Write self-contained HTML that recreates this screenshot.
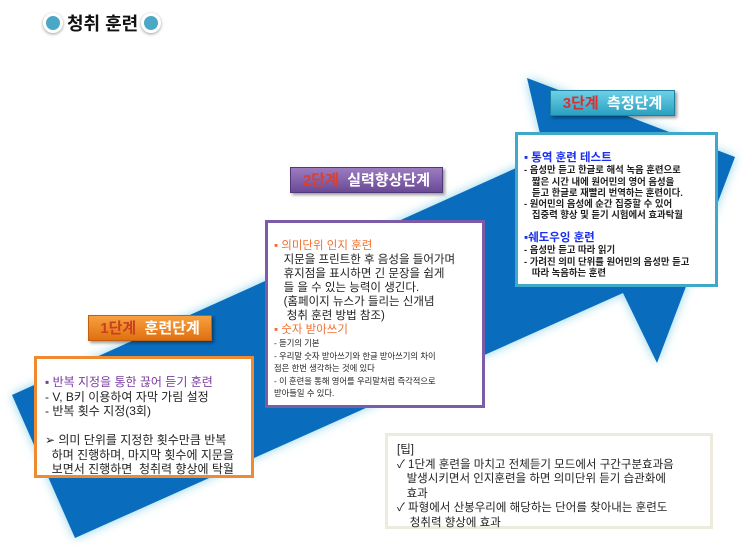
<!DOCTYPE html>
<html><head><meta charset="utf-8"><style>
body{margin:0;width:750px;height:555px;background:#fff;position:relative;overflow:hidden;font-family:"Liberation Sans","Noto Sans CJK KR",sans-serif;}
.a{position:absolute}
.box{position:absolute;background:#fff;box-sizing:border-box;color:#222;white-space:nowrap}
.lab{position:absolute;color:#fff;font-weight:bold;font-size:15px;text-align:center;box-shadow:2px 2px 3px rgba(0,0,0,.4);box-sizing:border-box;line-height:25px}
.dot{position:absolute;width:14px;height:14px;border-radius:50%;background:#4aa8c6;border:3px solid #fff;box-shadow:0 1px 3px rgba(0,0,0,.4)}
</style></head><body>
<svg class="a" style="left:0;top:0" width="750" height="555">
<defs><filter id="g" x="-10%" y="-10%" width="120%" height="120%"><feGaussianBlur stdDeviation="5"/></filter></defs>
<polygon points="12,395 545,155 527,78 735,157 657,363 623,293 75,538" fill="#8fd3e8" filter="url(#g)"/>
<polygon points="12,395 545,155 527,78 735,157 657,363 623,293 75,538" fill="#0a6cbd"/>
</svg>
<div class="dot" style="left:43px;top:13px"></div>
<div class="a" style="left:67px;top:10px;font-size:18px;font-weight:bold;color:#111">청취 훈련</div>
<div class="dot" style="left:141px;top:13px"></div>

<div class="lab" style="left:88px;top:315px;width:124px;height:26px;background:linear-gradient(#f7a040,#e07010);border:1px solid #c06010"><span style="color:#c84020">1단계</span>&nbsp; 훈련단계</div>
<div class="box" style="left:34px;top:356px;width:220px;height:122px;border:3px solid #f08a30;padding:16px 0 0 8px;font-size:12px;line-height:14.5px">
<span style="color:#7a3aa0">▪ 반복 지정을 통한 끊어 듣기 훈련</span><br>- V, B키 이용하여 자막 가림 설정<br>- 반복 횟수 지정(3회)<br><br>➢ 의미 단위를 지정한 횟수만큼 반복<br>&nbsp;&nbsp;하며 진행하며, 마지막 횟수에 지문을<br>&nbsp;&nbsp;보면서 진행하면&nbsp; 청취력 향상에 탁월</div>

<div class="lab" style="left:290px;top:167px;width:153px;height:26px;background:linear-gradient(#9c7bc0,#6a4a96);border:1px solid #50387a"><span style="color:#d84030">2단계</span>&nbsp; 실력향상단계</div>
<div class="box" style="left:265px;top:220px;width:220px;height:188px;border:3px solid #7c5ca8;padding:16px 0 0 6px;font-size:11.5px;line-height:14px">
<span style="color:#f07030">▪ 의미단위 인지 훈련</span><br>&nbsp;&nbsp;&nbsp;지문을 프린트한 후 음성을 들어가며<br>&nbsp;&nbsp;&nbsp;휴지점을 표시하면 긴 문장을 쉽게<br>&nbsp;&nbsp;&nbsp;들 을 수 있는 능력이 생긴다.<br>&nbsp;&nbsp;&nbsp;(홈페이지 뉴스가 들리는 신개념<br>&nbsp;&nbsp;&nbsp;&nbsp;청취 훈련 방법 참조)<br><span style="color:#f07030">▪ 숫자 받아쓰기</span><br>
<div style="font-size:8.3px;line-height:12.5px">- 듣기의 기본<br>- 우리말 숫자 받아쓰기와 한글 받아쓰기의 차이<br>점은 한번 생각하는 것에 있다<br>- 이 훈련을 통해 영어를 우리말처럼 즉각적으로<br>받아들일 수 있다.</div></div>

<div class="lab" style="left:550px;top:90px;width:125px;height:26px;background:linear-gradient(#6ed0e8,#2aa0c0);border:1px solid #2080a0"><span style="color:#d83030">3단계</span>&nbsp; 측정단계</div>
<div class="box" style="left:515px;top:132px;width:203px;height:155px;border:3px solid #40a8c8;padding:17px 0 0 6px;font-size:9.4px;line-height:11.3px;font-weight:bold;color:#222">
<span style="color:#1a2ef0;font-size:11.5px">▪ 통역 훈련 테스트</span><br>- 음성만 듣고 한글로 해석 녹음 훈련으로<br>&nbsp;&nbsp;&nbsp;짧은 시간 내에 원어민의 영어 음성을<br>&nbsp;&nbsp;&nbsp;듣고 한글로 재빨리 번역하는 훈련이다.<br>- 원어민의 음성에 순간 집중할 수 있어<br>&nbsp;&nbsp;&nbsp;집중력 향상 및 듣기 시험에서 효과탁월<br><br><span style="color:#1a2ef0;font-size:11.5px">▪쉐도우잉 훈련</span><br>- 음성만 듣고 따라 읽기<br>- 가려진 의미 단위를 원어민의 음성만 듣고<br>&nbsp;&nbsp;&nbsp;따라 녹음하는 훈련</div>

<div class="box" style="left:385px;top:433px;width:328px;height:96px;border:3px solid #ecebdc;padding:7px 0 0 9px;font-size:11.5px;line-height:14.5px">[팁]<br>✓ 1단계 훈련을 마치고 전체듣기 모드에서 구간구분효과음<br>&nbsp;&nbsp;&nbsp;발생시키면서 인지훈련을 하면 의미단위 듣기 습관화에<br>&nbsp;&nbsp;&nbsp;효과<br>✓ 파형에서 산봉우리에 해당하는 단어를 찾아내는 훈련도<br>&nbsp;&nbsp;&nbsp;&nbsp;청취력 향상에 효과</div>
</body></html>
